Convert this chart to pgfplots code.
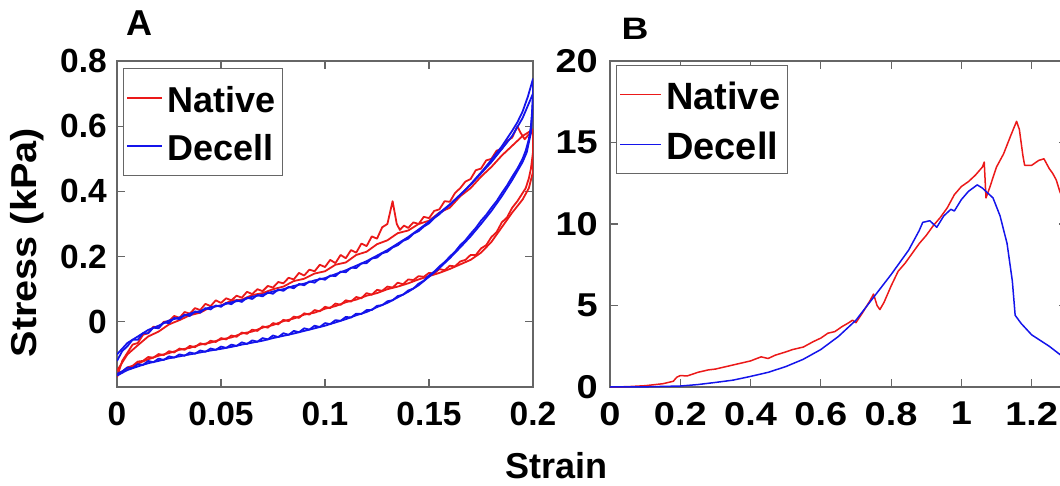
\documentclass[border=0pt]{standalone}
\usepackage{fontspec}
\setmainfont{Liberation Sans}
\usepackage{pgfplots}
\pgfplotsset{compat=1.18}
\definecolor{axgray}{gray}{0.4}
\definecolor{cred}{RGB}{235,25,25}
\definecolor{cblue}{RGB}{20,20,235}
\pgfplotsset{
 mystyle/.style={
  scale only axis,
  anchor=south west,
  height=326pt,
  axis line style={axgray, line width=1.2pt},
  tick style={axgray, line width=1.2pt},
  major tick length=8pt,
  tick align=inside,
  scaled ticks=false,
  every tick label/.append style={inner sep=0pt, text=black},
  legend cell align=left,
  clip=true,
 }
}
\begin{document}
\begin{tikzpicture}
% ---------------- Panel A ----------------
\begin{axis}[mystyle, at={(117pt,98pt)}, width=416pt,
  xmin=0, xmax=0.2, ymin=-0.2, ymax=0.8,
  xtick={0,0.05,0.1,0.15,0.2}, ytick={0,0.2,0.4,0.6,0.8},
  xticklabels={0,0.05,0.1,0.15,0.2}, yticklabels={0,0.2,0.4,0.6,0.8},
  tick label style={font=\fontsize{33.5}{38}\selectfont\bfseries},
  xticklabel shift=15pt, yticklabel shift=10pt,
  ylabel={Stress (kPa)},
  ylabel style={font=\fontsize{36}{40}\selectfont\bfseries, at={(axis description cs:-0.2163,0.443)}, anchor=center, xscale=1.1},
  legend image code/.code={\draw[#1, line width=1.6pt] (0pt,0pt) -- (35pt,0pt);},
  legend style={at={(0.0144,0.9785)}, anchor=north west, draw=axgray, line width=1.2pt,
    font=\fontsize{36}{40}\selectfont\bfseries, inner xsep=3pt, inner ysep=5.5pt,
    row sep=0pt, nodes={inner xsep=4pt, inner ysep=8.5pt, text height=30pt, text depth=1pt}},
  every axis plot/.append style={line width=1.8pt, line join=round}
]
\addlegendimage{cred}\addlegendentry{Native}
\addlegendimage{cblue}\addlegendentry{Decell}
% Native cycle 1
\addplot[cred, forget plot] coordinates {
(0,-0.17)(0.0025,-0.12)(0.005,-0.095)(0.0075,-0.07)(0.01,-0.065)(0.0125,-0.04)(0.015,-0.035)(0.0175,-0.015)(0.02,-0.018)(0.0225,0.0)(0.025,0.002)(0.0275,0.018)(0.03,0.012)(0.0325,0.03)(0.035,0.025)(0.0375,0.042)(0.04,0.036)(0.0425,0.055)(0.045,0.048)(0.0475,0.066)(0.05,0.058)(0.0525,0.072)(0.055,0.066)(0.0575,0.08)(0.06,0.074)(0.0625,0.092)(0.065,0.085)(0.0675,0.1)(0.07,0.094)(0.0725,0.11)(0.075,0.105)(0.0775,0.122)(0.08,0.118)(0.0825,0.135)(0.085,0.13)(0.0875,0.15)(0.09,0.142)(0.0925,0.16)(0.095,0.155)(0.0975,0.175)(0.1,0.168)(0.1025,0.19)(0.105,0.18)(0.1075,0.205)(0.11,0.195)(0.1125,0.22)(0.115,0.212)(0.1175,0.24)(0.12,0.232)(0.1225,0.262)(0.125,0.255)(0.1275,0.29)(0.13,0.3)(0.1325,0.37)(0.1345,0.3)(0.136,0.282)(0.138,0.295)(0.14,0.288)(0.1425,0.305)(0.145,0.3)(0.1475,0.322)(0.15,0.318)(0.1525,0.34)(0.155,0.345)(0.1575,0.37)(0.16,0.368)(0.1625,0.395)(0.165,0.41)(0.1675,0.43)(0.17,0.438)(0.1725,0.465)(0.175,0.47)(0.1775,0.495)(0.18,0.5)(0.1825,0.525)(0.185,0.53)(0.1875,0.555)(0.19,0.565)(0.1925,0.6)(0.194,0.58)(0.196,0.56)(0.198,0.575)(0.2,0.58)
(0.2,0.52)(0.199,0.47)(0.198,0.44)(0.1965,0.41)(0.195,0.395)(0.1925,0.37)(0.19,0.35)(0.1875,0.32)(0.185,0.305)(0.1825,0.275)(0.18,0.26)(0.1775,0.235)(0.175,0.225)(0.1725,0.205)(0.17,0.205)(0.1675,0.19)(0.165,0.185)(0.1625,0.17)(0.16,0.172)(0.1575,0.158)(0.155,0.162)(0.1525,0.148)(0.15,0.15)(0.1475,0.138)(0.145,0.14)(0.1425,0.128)(0.14,0.13)(0.1375,0.115)(0.135,0.12)(0.1325,0.105)(0.13,0.108)(0.1275,0.095)(0.125,0.098)(0.1225,0.083)(0.12,0.088)(0.1175,0.072)(0.115,0.076)(0.1125,0.062)(0.11,0.066)(0.1075,0.052)(0.105,0.056)(0.1025,0.042)(0.1,0.046)(0.0975,0.032)(0.095,0.036)(0.0925,0.022)(0.09,0.026)(0.0875,0.012)(0.085,0.016)(0.0825,0.002)(0.08,0.006)(0.0775,-0.008)(0.075,-0.004)(0.0725,-0.018)(0.07,-0.014)(0.0675,-0.028)(0.065,-0.024)(0.0625,-0.037)(0.06,-0.033)(0.0575,-0.046)(0.055,-0.042)(0.0525,-0.054)(0.05,-0.05)(0.0475,-0.062)(0.045,-0.058)(0.0425,-0.07)(0.04,-0.066)(0.0375,-0.078)(0.035,-0.074)(0.0325,-0.086)(0.03,-0.082)(0.0275,-0.094)(0.025,-0.09)(0.0225,-0.102)(0.02,-0.099)(0.0175,-0.11)(0.015,-0.108)(0.0125,-0.12)(0.01,-0.122)(0.0075,-0.135)(0.005,-0.14)(0.0025,-0.155)(0,-0.165)
};
% Native cycle 2
\addplot[cred, forget plot] coordinates {
(0,-0.15)(0.005,-0.1)(0.01,-0.072)(0.015,-0.045)(0.02,-0.03)(0.025,-0.008)(0.03,0.005)(0.035,0.02)(0.04,0.028)(0.045,0.045)(0.05,0.05)(0.055,0.065)(0.06,0.068)(0.065,0.082)(0.07,0.088)(0.075,0.1)(0.08,0.108)(0.085,0.125)(0.09,0.132)(0.095,0.148)(0.1,0.155)(0.105,0.175)(0.11,0.182)(0.115,0.205)(0.12,0.215)(0.125,0.238)(0.13,0.25)(0.135,0.272)(0.14,0.28)(0.145,0.3)(0.15,0.31)(0.155,0.335)(0.16,0.35)(0.165,0.385)(0.17,0.41)(0.175,0.445)(0.18,0.475)(0.185,0.51)(0.19,0.54)(0.195,0.57)(0.2,0.59)
(0.2,0.46)(0.198,0.41)(0.195,0.375)(0.19,0.335)(0.185,0.29)(0.18,0.245)(0.175,0.212)(0.17,0.19)(0.165,0.176)(0.16,0.162)(0.155,0.15)(0.15,0.14)(0.145,0.13)(0.14,0.118)(0.135,0.108)(0.13,0.1)(0.125,0.088)(0.12,0.08)(0.115,0.068)(0.11,0.06)(0.105,0.048)(0.1,0.04)(0.095,0.028)(0.09,0.022)(0.085,0.01)(0.08,0.002)(0.075,-0.01)(0.07,-0.018)(0.065,-0.03)(0.06,-0.036)(0.055,-0.048)(0.05,-0.054)(0.045,-0.064)(0.04,-0.07)(0.035,-0.08)(0.03,-0.086)(0.025,-0.096)(0.02,-0.104)(0.015,-0.115)(0.01,-0.128)(0.005,-0.145)(0,-0.16)
};
% Decell cycle 1
\addplot[cblue, forget plot] coordinates {
(0,-0.12)(0.0025,-0.09)(0.005,-0.075)(0.0075,-0.055)(0.01,-0.055)(0.0125,-0.035)(0.015,-0.035)(0.0175,-0.018)(0.02,-0.02)(0.0225,-0.002)(0.025,-0.004)(0.0275,0.012)(0.03,0.008)(0.0325,0.022)(0.035,0.018)(0.0375,0.032)(0.04,0.028)(0.0425,0.042)(0.045,0.038)(0.0475,0.05)(0.05,0.046)(0.0525,0.058)(0.055,0.054)(0.0575,0.066)(0.06,0.061)(0.0625,0.074)(0.065,0.07)(0.0675,0.082)(0.07,0.078)(0.0725,0.09)(0.075,0.086)(0.0775,0.099)(0.08,0.095)(0.0825,0.107)(0.085,0.103)(0.0875,0.116)(0.09,0.112)(0.0925,0.124)(0.095,0.12)(0.0975,0.133)(0.1,0.129)(0.1025,0.142)(0.105,0.14)(0.1075,0.154)(0.11,0.152)(0.1125,0.166)(0.115,0.165)(0.1175,0.179)(0.12,0.18)(0.1225,0.194)(0.125,0.197)(0.1275,0.21)(0.13,0.215)(0.1325,0.228)(0.135,0.235)(0.1375,0.248)(0.14,0.255)(0.1425,0.27)(0.145,0.278)(0.1475,0.292)(0.15,0.302)(0.1525,0.318)(0.155,0.33)(0.1575,0.345)(0.16,0.358)(0.1625,0.374)(0.165,0.388)(0.1675,0.405)(0.17,0.422)(0.1725,0.44)(0.175,0.458)(0.1775,0.477)(0.18,0.497)(0.1825,0.518)(0.185,0.538)(0.1875,0.562)(0.19,0.586)(0.1925,0.612)(0.195,0.645)(0.1975,0.69)(0.2,0.745)
(0.2,0.7)(0.1995,0.64)(0.199,0.6)(0.198,0.56)(0.1965,0.525)(0.195,0.5)(0.1925,0.47)(0.19,0.445)(0.1875,0.418)(0.185,0.395)(0.1825,0.37)(0.18,0.35)(0.1775,0.328)(0.175,0.31)(0.1725,0.288)(0.17,0.27)(0.1675,0.25)(0.165,0.235)(0.1625,0.215)(0.16,0.2)(0.1575,0.183)(0.155,0.17)(0.1525,0.154)(0.15,0.142)(0.1475,0.126)(0.145,0.117)(0.1425,0.102)(0.14,0.096)(0.1375,0.083)(0.135,0.079)(0.1325,0.066)(0.13,0.063)(0.1275,0.051)(0.125,0.049)(0.1225,0.036)(0.12,0.036)(0.1175,0.024)(0.115,0.025)(0.1125,0.013)(0.11,0.015)(0.1075,0.003)(0.105,0.005)(0.1025,-0.007)(0.1,-0.004)(0.0975,-0.016)(0.095,-0.012)(0.0925,-0.024)(0.09,-0.02)(0.0875,-0.032)(0.085,-0.028)(0.0825,-0.04)(0.08,-0.035)(0.0775,-0.047)(0.075,-0.042)(0.0725,-0.054)(0.07,-0.05)(0.0675,-0.061)(0.065,-0.057)(0.0625,-0.068)(0.06,-0.063)(0.0575,-0.074)(0.055,-0.07)(0.0525,-0.08)(0.05,-0.076)(0.0475,-0.086)(0.045,-0.082)(0.0425,-0.092)(0.04,-0.088)(0.0375,-0.098)(0.035,-0.094)(0.0325,-0.104)(0.03,-0.1)(0.0275,-0.11)(0.025,-0.106)(0.0225,-0.117)(0.02,-0.113)(0.0175,-0.124)(0.015,-0.12)(0.0125,-0.132)(0.01,-0.13)(0.0075,-0.142)(0.005,-0.14)(0.0025,-0.152)(0,-0.16)
};
% Decell cycle 2
\addplot[cblue, forget plot] coordinates {
(0,-0.1)(0.005,-0.065)(0.01,-0.045)(0.015,-0.025)(0.02,-0.012)(0.025,0.004)(0.03,0.013)(0.035,0.025)(0.04,0.033)(0.045,0.045)(0.05,0.05)(0.055,0.06)(0.06,0.066)(0.065,0.077)(0.07,0.083)(0.075,0.093)(0.08,0.1)(0.085,0.11)(0.09,0.117)(0.095,0.127)(0.1,0.134)(0.105,0.146)(0.11,0.158)(0.115,0.172)(0.12,0.186)(0.125,0.203)(0.13,0.22)(0.135,0.24)(0.14,0.26)(0.145,0.283)(0.15,0.307)(0.155,0.334)(0.16,0.36)(0.165,0.39)(0.17,0.42)(0.175,0.455)(0.18,0.49)(0.185,0.53)(0.19,0.57)(0.195,0.625)(0.2,0.7)
(0.2,0.68)(0.199,0.58)(0.197,0.52)(0.195,0.49)(0.19,0.435)(0.185,0.385)(0.18,0.34)(0.175,0.3)(0.17,0.262)(0.165,0.228)(0.16,0.195)(0.155,0.165)(0.15,0.138)(0.145,0.112)(0.14,0.092)(0.135,0.075)(0.13,0.058)(0.125,0.045)(0.12,0.03)(0.115,0.02)(0.11,0.008)(0.105,-0.002)(0.1,-0.012)(0.095,-0.02)(0.09,-0.028)(0.085,-0.036)(0.08,-0.043)(0.075,-0.05)(0.07,-0.058)(0.065,-0.064)(0.06,-0.07)(0.055,-0.077)(0.05,-0.083)(0.045,-0.088)(0.04,-0.094)(0.035,-0.1)(0.03,-0.106)(0.025,-0.112)(0.02,-0.12)(0.015,-0.127)(0.01,-0.137)(0.005,-0.148)(0,-0.165)
};
\end{axis}
% ---------------- Panel B ----------------
\begin{axis}[mystyle, at={(610pt,98pt)}, width=456.8pt,
  xmin=0, xmax=1.3, ymin=0, ymax=20,
  xtick={0,0.2,0.4,0.6,0.8,1,1.2}, ytick={0,5,10,15,20},
  xticklabels={0,0.2,0.4,0.6,0.8,1,1.2}, yticklabels={0,5,10,15,20},
  tick label style={font=\fontsize{33}{40}\selectfont\bfseries, xscale=1.15},
  xticklabel shift=15pt, yticklabel shift=12pt,
  legend image code/.code={\draw[#1, line width=1.6pt] (0pt,0pt) -- (41pt,0pt);},
  legend style={at={(0.0131,0.9877)}, anchor=north west, draw=axgray, line width=1.2pt,
    font=\fontsize{38}{42}\selectfont\bfseries, inner xsep=3pt, inner ysep=4pt,
    row sep=0pt, nodes={inner xsep=4pt, inner ysep=9pt, text height=31pt, text depth=1pt}},
  every axis plot/.append style={line width=1.5pt, line join=round}
]
\addlegendimage{cred}\addlegendentry{Native}
\addlegendimage{cblue}\addlegendentry{Decell}
\addplot[cred, forget plot] coordinates {
(0,0)(0.05,0.02)(0.1,0.08)(0.15,0.2)(0.18,0.35)(0.19,0.6)(0.2,0.7)(0.22,0.68)(0.25,0.9)(0.28,1.05)(0.3,1.1)(0.33,1.25)(0.36,1.4)(0.4,1.6)(0.43,1.85)(0.45,1.75)(0.47,1.95)(0.5,2.15)(0.52,2.3)(0.55,2.45)(0.58,2.8)(0.6,3.0)(0.62,3.3)(0.64,3.4)(0.66,3.7)(0.68,3.95)(0.69,4.1)(0.7,3.95)(0.72,4.6)(0.74,5.3)(0.75,5.7)(0.76,5.0)(0.768,4.75)(0.78,5.2)(0.8,6.2)(0.82,7.1)(0.84,7.6)(0.86,8.2)(0.88,8.8)(0.9,9.3)(0.92,9.9)(0.94,10.4)(0.96,11.0)(0.98,11.8)(1.0,12.3)(1.02,12.6)(1.04,13.0)(1.06,13.5)(1.065,13.8)(1.07,11.6)(1.08,12.2)(1.1,13.5)(1.12,14.3)(1.14,15.4)(1.157,16.3)(1.165,15.8)(1.175,14.2)(1.18,13.6)(1.2,13.6)(1.22,13.9)(1.235,14.0)(1.25,13.4)(1.26,13.1)(1.27,12.7)(1.28,12.0)(1.3,11.0)
};
\addplot[cblue, forget plot] coordinates {
(0,0)(0.1,0.01)(0.2,0.06)(0.25,0.15)(0.3,0.28)(0.35,0.42)(0.4,0.65)(0.45,0.9)(0.5,1.25)(0.55,1.7)(0.6,2.3)(0.65,3.1)(0.7,4.1)(0.75,5.5)(0.8,6.9)(0.85,8.4)(0.88,9.6)(0.89,10.1)(0.91,10.2)(0.92,10.0)(0.93,9.8)(0.95,10.5)(0.97,10.9)(0.98,10.8)(1.0,11.5)(1.02,12.0)(1.045,12.4)(1.06,12.2)(1.07,12.0)(1.09,11.6)(1.11,10.5)(1.13,8.8)(1.145,6.5)(1.153,4.4)(1.17,3.9)(1.2,3.2)(1.25,2.5)(1.28,2.0)(1.3,1.7)
};
\end{axis}
\node[font=\fontsize{36}{40}\selectfont\bfseries, anchor=base] at (139.7pt,449.3pt) {A};
\node[font=\fontsize{31}{40}\selectfont\bfseries, anchor=base, xscale=1.2] at (635pt,445pt) {B};
\node[font=\fontsize{36}{40}\selectfont\bfseries, anchor=base] at (556.5pt,7pt) {Strain};
\pgfresetboundingbox
\useasboundingbox (0pt,0pt) rectangle (1060pt,485pt);
\end{tikzpicture}
\end{document}
